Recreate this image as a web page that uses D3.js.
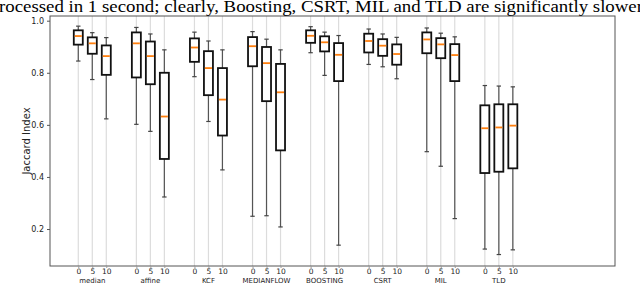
<!DOCTYPE html>
<html>
<head>
<meta charset="utf-8">
<script src="https://cdn.jsdelivr.net/npm/d3@7"></script>
<style>
  body { margin: 0; background: #fff; }
  svg { display: block; }
</style>
</head>
<body>
<svg id="chart" width="640" height="285"></svg>
<script>
// trackers and noise levels
const groups = ['median', 'affine', 'KCF', 'MEDIANFLOW', 'BOOSTING', 'CSRT', 'MIL', 'TLD']
const levels = ['0', '5', '10']
const yTicks = [0.2, 0.4, 0.6, 0.8, 1.0]

// box stats per group, one entry per level: [whiskerLow, q1, median, q3, whiskerHigh]
const medianStats = [[0.845, 0.908, 0.941, 0.963, 0.979], [0.774, 0.873, 0.913, 0.936, 0.954], [0.623, 0.792, 0.864, 0.905, 0.935]]
const affineStats = [[0.602, 0.782, 0.913, 0.955, 0.974], [0.575, 0.756, 0.864, 0.920, 0.949], [0.323, 0.469, 0.632, 0.800, 0.888]]
const kcfStats = [[0.785, 0.842, 0.897, 0.932, 0.956], [0.613, 0.714, 0.818, 0.883, 0.922], [0.427, 0.559, 0.697, 0.818, 0.888]]
const medianflowStats = [[0.249, 0.825, 0.902, 0.937, 0.958], [0.251, 0.691, 0.837, 0.899, 0.929], [0.208, 0.502, 0.725, 0.834, 0.888]]
const boostingStats = [[0.877, 0.915, 0.942, 0.963, 0.977], [0.790, 0.882, 0.917, 0.940, 0.956], [0.138, 0.768, 0.869, 0.914, 0.943]]
const csrtStats = [[0.832, 0.878, 0.922, 0.950, 0.968], [0.823, 0.865, 0.904, 0.929, 0.949], [0.777, 0.831, 0.872, 0.909, 0.936]]
const milStats = [[0.497, 0.875, 0.928, 0.955, 0.972], [0.441, 0.856, 0.909, 0.933, 0.952], [0.240, 0.768, 0.868, 0.910, 0.938]]
const tldStats = [[0.123, 0.415, 0.587, 0.675, 0.751], [0.102, 0.420, 0.590, 0.679, 0.749], [0.120, 0.433, 0.597, 0.679, 0.746]]

const allStats = [medianStats, affineStats, kcfStats, medianflowStats, boostingStats, csrtStats, milStats, tldStats]

const caption = 'rocessed in 1 second; clearly, Boosting, CSRT, MIL and TLD are significantly slower'

const margin = {top: 16, right: 25, bottom: 19, left: 50}
const width = 640, height = 285
const svg = d3.select('#chart')

// group g sits at g, levels offset by +-0.241
const offset = 0.241
const pos = (g, i) => g + (i - 1) * offset
const x = d3.scaleLinear().domain([-0.728, 9.0]).range([margin.left, width - margin.right])
const y = d3.scaleLinear().domain([0.058, 1.018]).range([height - margin.bottom, margin.top])

const rows = []
allStats.forEach((stats, g) => stats.forEach((s, i) => rows.push({g, i, s})))

// light vertical grid at each box position
svg.append('g').selectAll('line')
  .data(rows).enter().append('line')
  .attr('x1', d => x(pos(d.g, d.i))).attr('x2', d => x(pos(d.g, d.i)))
  .attr('y1', y.range()[1]).attr('y2', y.range()[0])
  .style('stroke', '#dcdcdc').style('stroke-width', 1.2)

// boxes
const boxW = 9
const box = svg.append('g').selectAll('g').data(rows).enter().append('g')
box.append('line')
  .attr('x1', d => x(pos(d.g, d.i))).attr('x2', d => x(pos(d.g, d.i)))
  .attr('y1', d => y(d.s[0])).attr('y2', d => y(d.s[4]))
  .style('stroke', '#555').style('stroke-width', 1.2)
box.selectAll('.cap').data(d => [[d, d.s[0]], [d, d.s[4]]]).enter().append('line')
  .attr('x1', d => x(pos(d[0].g, d[0].i)) - 2.2).attr('x2', d => x(pos(d[0].g, d[0].i)) + 2.2)
  .attr('y1', d => y(d[1])).attr('y2', d => y(d[1]))
  .style('stroke', '#444').style('stroke-width', 1.2)
box.append('rect')
  .attr('x', d => x(pos(d.g, d.i)) - boxW / 2).attr('width', boxW)
  .attr('y', d => y(d.s[3])).attr('height', d => y(d.s[1]) - y(d.s[3]))
  .style('fill', '#fff').style('stroke', '#111').style('stroke-width', 1.8)
box.append('line')
  .attr('x1', d => x(pos(d.g, d.i)) - boxW / 2 + 1).attr('x2', d => x(pos(d.g, d.i)) + boxW / 2 - 1)
  .attr('y1', d => y(d.s[2])).attr('y2', d => y(d.s[2]))
  .style('stroke', '#ff7f0e').style('stroke-width', 1.8)

// frame
svg.append('rect')
  .attr('x', margin.left).attr('y', margin.top)
  .attr('width', width - margin.left - margin.right).attr('height', height - margin.top - margin.bottom)
  .style('fill', 'none').style('stroke', '#555').style('stroke-width', 1)

// y axis
const yAxis = svg.append('g')
  .attr('transform', `translate(${margin.left},0)`)
  .call(d3.axisLeft(y).tickValues(yTicks).tickFormat(d3.format('.1f')).tickSize(3))
yAxis.select('.domain').remove()
yAxis.selectAll('text').style('font-family', 'DejaVu Sans').style('font-size', '8px').style('fill', '#222')
yAxis.selectAll('line').style('stroke', '#555')

svg.append('text')
  .attr('transform', `translate(30,${(margin.top + height - margin.bottom) / 2}) rotate(-90)`)
  .attr('text-anchor', 'middle')
  .style('font-family', 'DejaVu Sans').style('font-size', '10px').style('fill', '#222')
  .text('Jaccard Index')

// x ticks, tick labels and group names
const xAxis = svg.append('g')
  .attr('transform', `translate(0,${height - margin.bottom})`)
  .call(d3.axisBottom(x).tickValues(rows.map(d => pos(d.g, d.i))).tickFormat((d, k) => levels[rows[k].i]).tickSize(2).tickPadding(1))
xAxis.select('.domain').remove()
xAxis.selectAll('line').style('stroke', '#999')
xAxis.selectAll('text').style('font-family', 'DejaVu Sans').style('font-size', '7.5px').style('fill', '#222')
svg.append('g').selectAll('text').data(groups).enter().append('text')
  .attr('x', (d, g) => x(g)).attr('y', height - 2.5)
  .attr('text-anchor', 'middle')
  .style('font-family', 'DejaVu Sans').style('font-size', '7px').style('fill', '#222')
  .text(d => d)

// cut-off caption from the page above
svg.append('text')
  .attr('x', -1).attr('y', 12)
  .attr('textLength', 644).attr('lengthAdjust', 'spacingAndGlyphs')
  .style('font-family', 'Liberation Serif').style('font-size', '16px').style('fill', '#000')
  .text(caption)
</script>
</body>
</html>
